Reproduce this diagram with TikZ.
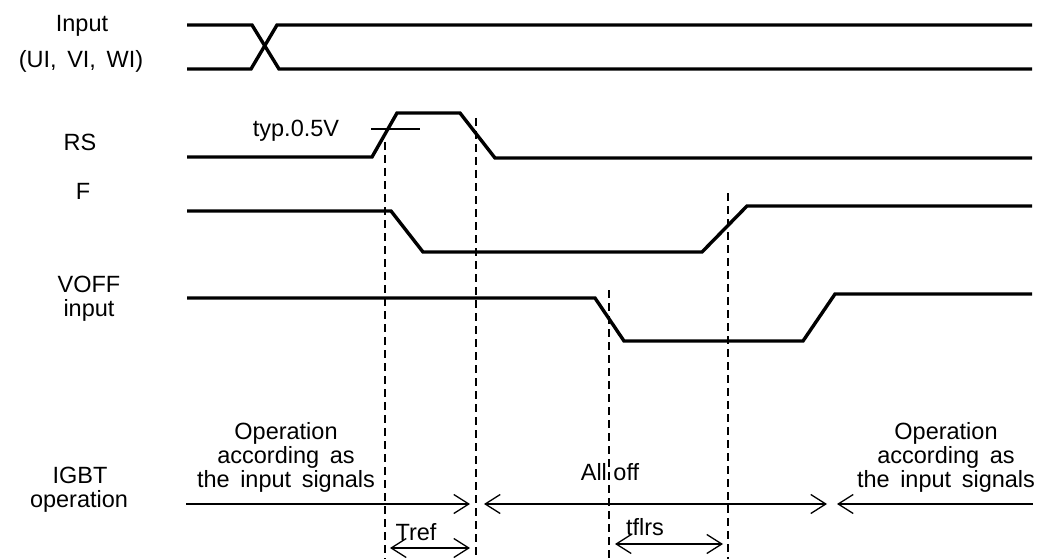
\documentclass[tikz,border=0pt]{standalone}
\usepackage{fontspec}
\setmainfont{Liberation Sans}
\usetikzlibrary{arrows.meta}
\newcommand\wsp{\hspace{0.45em}}
\begin{document}
\begin{tikzpicture}[x=1pt,y=-1pt,
  lbl/.style={anchor=base,inner sep=0pt,font=\fontsize{23.5}{25}\selectfont},
  sig/.style={line width=3.4pt,line join=miter},
  thin/.style={line width=1.2pt},
  vdash/.style={line width=1.5pt,dash pattern=on 8pt off 5pt},
  span/.style={line width=1.3pt,{Straight Barb[length=15pt,width=19pt,line width=1.3pt]}-{Straight Barb[length=15pt,width=19pt,line width=1.3pt]}},
  rspan/.style={line width=1.3pt,-{Straight Barb[length=15pt,width=19pt,line width=1.3pt]}},
  lspan/.style={line width=1.3pt,{Straight Barb[length=15pt,width=19pt,line width=1.3pt]}-}]
\useasboundingbox (0,0) rectangle (1047,559);
% labels
\node[lbl] (lin1) at (82,32) {Input};
\node[lbl] (lin2) at (81,68) {(UI,\wsp VI,\wsp WI)};
\node[lbl] (lrs) at (80,150) {RS};
\node[lbl] (lf) at (83,200) {F};
\node[lbl] (lv1) at (89,292) {VOFF};
\node[lbl] (lv2) at (89,316) {input};
\node[lbl] (lg1) at (80,483) {IGBT};
\node[lbl] (lg2) at (79,507) {operation};
\node[lbl] (typ) at (296,137) {typ.0.5V};
\node[lbl] (opl1) at (286,439) {Operation};
\node[lbl] (opl2) at (286,463) {according\wsp as};
\node[lbl] (opl3) at (286,487) {the\wsp input\wsp signals};
\node[lbl] (opr1) at (946,439) {Operation};
\node[lbl] (opr2) at (946,463) {according\wsp as};
\node[lbl] (opr3) at (946,487) {the\wsp input\wsp signals};
\node[lbl] (alloff) at (610,480) {All off};
\node[lbl] (tref) at (416,540) {Tref};
\node[lbl] (tflrs) at (645,535) {tflrs};
% input signals
\coordinate (i1) at (187,25);
\coordinate (i2) at (252,25);
\coordinate (i3) at (279,69);
\coordinate (i4) at (1032,69);
\coordinate (j1) at (187,69);
\coordinate (j2) at (251,69);
\coordinate (j3) at (277,25);
\coordinate (j4) at (1032,25);
\draw[sig] (i1) -- (i2) -- (i3) -- (i4);
\draw[sig] (j1) -- (j2) -- (j3) -- (j4);
% RS
\coordinate (r1) at (187,157);
\coordinate (r2) at (372,157);
\coordinate (r3) at (397,113);
\coordinate (r4) at (460,113);
\coordinate (r5) at (495,158);
\coordinate (r6) at (1032,158);
\draw[sig] (r1) -- (r2) -- (r3) -- (r4) -- (r5) -- (r6);
\coordinate (th1) at (371,129);
\coordinate (th2) at (420,129);
\draw[thin] (th1) -- (th2);
% F
\coordinate (f1) at (187,211);
\coordinate (f2) at (391,211);
\coordinate (f3) at (423,252);
\coordinate (f4) at (702,252);
\coordinate (f5) at (747,206);
\coordinate (f6) at (1032,206);
\draw[sig] (f1) -- (f2) -- (f3) -- (f4) -- (f5) -- (f6);
% VOFF
\coordinate (v1) at (187,298);
\coordinate (v2) at (595,298);
\coordinate (v3) at (624,341);
\coordinate (v4) at (803,341);
\coordinate (v5) at (835,294);
\coordinate (v6) at (1032,294);
\draw[sig] (v1) -- (v2) -- (v3) -- (v4) -- (v5) -- (v6);
% dashed markers
\coordinate (d1t) at (385,142);
\coordinate (d1b) at (385,559);
\coordinate (d2t) at (476,118);
\coordinate (d2b) at (476,559);
\coordinate (d3t) at (728,193);
\coordinate (d3b) at (728,559);
\coordinate (d4t) at (609,290);
\coordinate (d4b) at (609,559);
\draw[vdash] (d1t) -- (d1b);
\draw[vdash] (d2t) -- (d2b);
\draw[vdash] (d3t) -- (d3b);
\draw[vdash] (d4t) -- (d4b);
% IGBT operation arrows
\coordinate (a1) at (186,504);
\coordinate (a2) at (470,504);
\coordinate (a3) at (484,504);
\coordinate (a4) at (827,504);
\coordinate (a5) at (837,504);
\coordinate (a6) at (1033,504);
\draw[rspan] (a1) -- (a2);
\draw[span] (a3) -- (a4);
\draw[lspan] (a5) -- (a6);
% time spans
\coordinate (t1) at (390,548);
\coordinate (t2) at (470,548);
\draw[span] (t1) -- (t2);
\coordinate (u1) at (615,544);
\coordinate (u2) at (723,544);
\draw[span] (u1) -- (u2);
\end{tikzpicture}
\end{document}
